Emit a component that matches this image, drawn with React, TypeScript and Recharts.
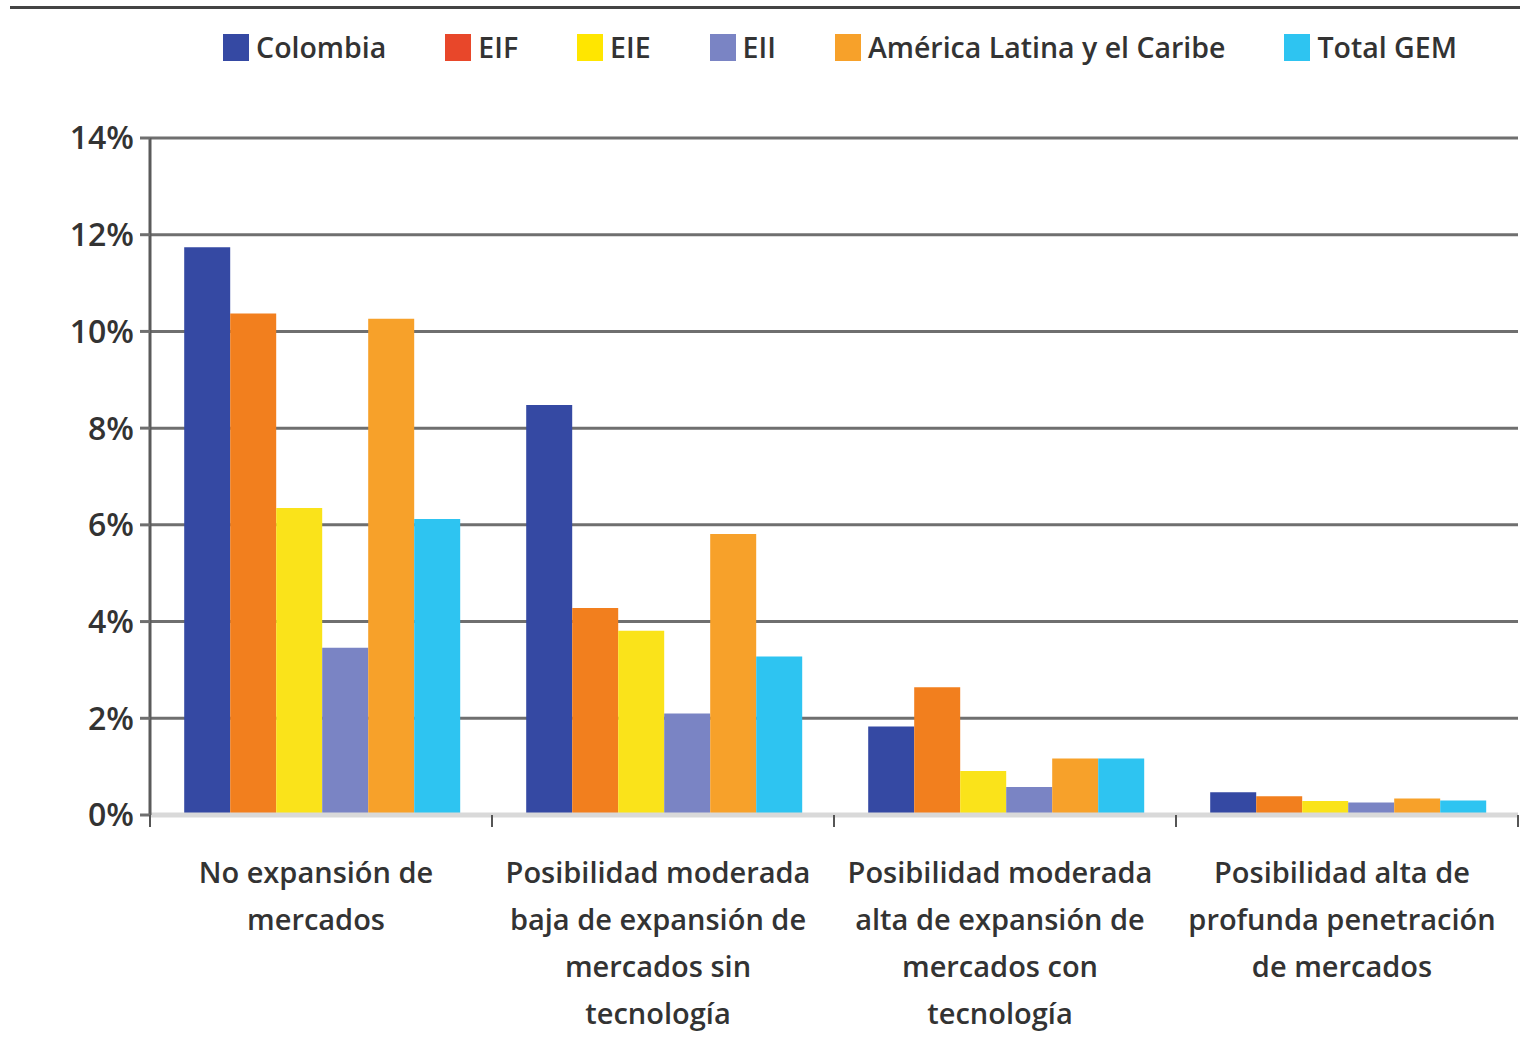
import React from "react";
import { BarChart, Bar, XAxis, YAxis, CartesianGrid, Legend } from "recharts";

// category labels, one entry per group, already broken into lines
const categories = [
  ["No expansión de", "mercados"],
  ["Posibilidad moderada", "baja de expansión de", "mercados sin", "tecnología"],
  ["Posibilidad moderada", "alta de expansión de", "mercados con", "tecnología"],
  ["Posibilidad alta de", "profunda penetración", "de mercados"],
];

const colombia = [11.74, 8.48, 1.83, 0.47];
const eif = [10.37, 4.28, 2.64, 0.39];
const eie = [6.35, 3.81, 0.91, 0.29];
const eii = [3.46, 2.1, 0.58, 0.26];
const alc = [10.26, 5.81, 1.17, 0.34];
const totalGem = [6.12, 3.28, 1.17, 0.3];

const seriesNames = ["Colombia", "EIF", "EIE", "EII", "América Latina y el Caribe", "Total GEM"];
const barColors = ["#3549A3", "#F27F1E", "#FAE31A", "#7A84C4", "#F7A12A", "#2EC4F1"];
const legendColors = ["#3549A3", "#E8472A", "#FFE600", "#7A84C4", "#F7A12A", "#2EC4F1"];

const yTicks = [0, 2, 4, 6, 8, 10, 12, 14];

const FONT = "'Open Sans', 'DejaVu Sans', sans-serif";

const seriesValues = [colombia, eif, eie, eii, alc, totalGem];
const data = categories.map((lines, i) => {
  const row: Record<string, any> = { name: lines.join(" ") };
  seriesNames.forEach((s, k) => {
    row[s] = seriesValues[k][i];
  });
  return row;
});

// label lines plus small marks at the band edges (Excel-style ticks between categories)
function CategoryTick(props: any) {
  const { x, y, payload, index, visibleTicksCount } = props;
  const lines = categories[payload.index] || [];
  const half = payload.offset || 0;
  const isLast = index === visibleTicksCount - 1;
  return (
    <g>
      <line x1={x - half} x2={x - half} y1={y} y2={y + 12} stroke="#555" strokeWidth={2} />
      {isLast && <line x1={x + half} x2={x + half} y1={y} y2={y + 12} stroke="#555" strokeWidth={2} />}
      <text x={x - 5} y={y} textAnchor="middle" fontFamily={FONT} fontSize={29} fontWeight={600} fill="#333">
        {lines.map((l, i) => (
          <tspan key={i} x={x - 5} dy={i === 0 ? 68 : 47}>
            {l}
          </tspan>
        ))}
      </text>
    </g>
  );
}

const renderLegend = () => (
  <div
    style={{
      display: "flex",
      justifyContent: "center",
      alignItems: "center",
      height: 50,
      gap: 59,
      fontFamily: FONT,
      fontSize: 28.5,
      fontWeight: 600,
      color: "#333",
    }}
  >
    {seriesNames.map((n, i) => (
      <div key={n} style={{ display: "flex", alignItems: "center", whiteSpace: "nowrap" }}>
        <span style={{ display: "inline-block", width: 26, height: 27, background: legendColors[i], marginRight: 7 }} />
        <span>{n}</span>
      </div>
    ))}
  </div>
);

export default function App() {
  return (
    <div style={{ position: "absolute", left: 0, top: 0, width: 1540, height: 1039, background: "#fff" }}>
      {/* rule across the top */}
      <div style={{ position: "absolute", left: 10, top: 6, width: 1510, height: 3, background: "#444" }} />
      <BarChart
        width={1540}
        height={1039}
        data={data}
        margin={{ top: 88, right: 22, bottom: 223, left: 0 }}
        barCategoryGap="10%"
        barGap={0}
      >
        <CartesianGrid
          vertical={false}
          stroke="#6f6f6f"
          strokeWidth={3}
          horizontalValues={[2, 4, 6, 8, 10, 12, 14]}
        />
        <XAxis
          dataKey="name"
          height={1}
          tickSize={0}
          tickMargin={0}
          tickLine={false}
          axisLine={{ stroke: "#d9d9d9", strokeWidth: 5 }}
          tick={<CategoryTick />}
          interval={0}
        />
        <YAxis
          width={150}
          domain={[0, 14]}
          ticks={yTicks}
          interval={0}
          tickFormatter={(v) => `${v}%`}
          axisLine={{ stroke: "#5a5a5a", strokeWidth: 3 }}
          tickLine={{ stroke: "#6f6f6f", strokeWidth: 3 }}
          tickSize={10}
          tickMargin={6}
          tick={{ fontFamily: FONT, fontSize: 32, fontWeight: 600, fill: "#333" }}
        />
        <Legend
          verticalAlign="top"
          height={50}
          content={renderLegend}
          wrapperStyle={{ top: 22, left: 156, width: 1368 }}
        />
        {seriesNames.map((s, k) => (
          <Bar key={s} dataKey={s} fill={barColors[k]} isAnimationActive={false} />
        ))}
      </BarChart>
    </div>
  );
}
